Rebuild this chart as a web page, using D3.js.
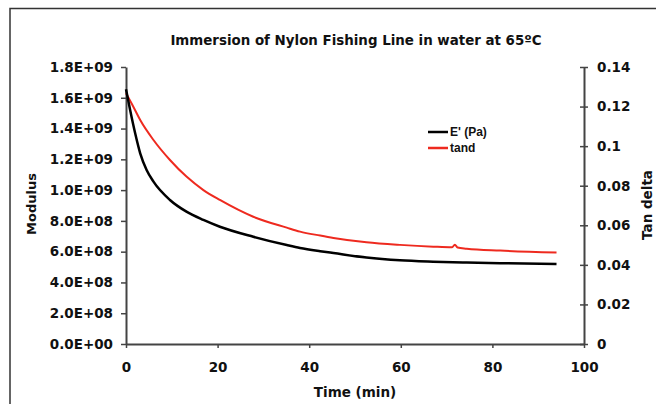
<!DOCTYPE html>
<html>
<head>
<meta charset="utf-8">
<script src="https://cdn.jsdelivr.net/npm/d3@7"></script>
<style>
  body { margin: 0; background: #fff; }
  svg { display: block; }
</style>
</head>
<body>
<div id="chart"></div>
<script>
// Data
const modulusTime = [0, 0.9, 2, 3.1, 4.5, 6, 9.6, 13.2, 16.9, 20.5, 27.8, 35.1, 38, 42.4, 45.3, 52.5, 59.8, 67.1, 74.4, 81.7, 94]
const modulusValues = [1.655e9, 1.52e9, 1.369e9, 1.239e9, 1.131e9, 1.055e9, 0.936e9, 0.86e9, 0.806e9, 0.762e9,
  0.697e9, 0.643e9, 0.624e9, 0.603e9, 0.591e9, 0.562e9, 0.544e9, 0.535e9, 0.529e9, 0.525e9, 0.52e9]

const tandTime = [0, 1.6, 3.1, 6, 9.6, 13.2, 16.9, 20.5, 27.8, 35.1, 38, 42.4, 45.3, 52.5, 59.8, 67.1, 71.2, 71.8, 72.4, 74.4, 81.7, 94]
const tandValues = [0.1267, 0.1199, 0.1132, 0.1031, 0.093, 0.0846, 0.0778, 0.0728, 0.0643, 0.0588, 0.0568,
  0.0548, 0.0536, 0.0514, 0.0501, 0.0492, 0.0489, 0.0502, 0.0488, 0.0482, 0.0472, 0.0462]

const xTicks = [0, 20, 40, 60, 80, 100]
const leftTicks = [0, 2e8, 4e8, 6e8, 8e8, 1e9, 1.2e9, 1.4e9, 1.6e9, 1.8e9]
const rightTicks = [0, 0.02, 0.04, 0.06, 0.08, 0.1, 0.12, 0.14]
const rightTickLabels = ["0", "0.02", "0.04", "0.06", "0.08", "0.1", "0.12", "0.14"]

const seriesNames = ["E' (Pa)", "tand"]
const seriesColors = ["#000000", "#ee2a1f"]

// Variables
let dimensions = {
  width: 656,
  height: 404,
  margin: { top: 67, right: 72, bottom: 60, left: 126 },
}
dimensions.boundedWidth = dimensions.width - dimensions.margin.left - dimensions.margin.right
dimensions.boundedHeight = dimensions.height - dimensions.margin.top - dimensions.margin.bottom

const verdana = "'DejaVu Sans', Verdana, sans-serif"
const arial = "'Liberation Sans', Arial, sans-serif"
const axisColor = "#444"

const wrapper = d3.select("#chart")
  .append("svg")
  .attr("width", dimensions.width)
  .attr("height", dimensions.height)

// outer frame (only top and left edges are visible)
wrapper.append("path")
  .attr("d", "M10,404 V8.5 H656")
  .attr("fill", "none")
  .attr("stroke", "#333")
  .attr("stroke-width", 1.5)

const bounds = wrapper.append("g")
  .attr("transform", `translate(${dimensions.margin.left},${dimensions.margin.top})`)

// Scales
const xScale = d3.scaleLinear()
  .domain([0, 100])
  .range([0, dimensions.boundedWidth])
const yLeft = d3.scaleLinear()
  .domain([0, 1.8e9])
  .range([dimensions.boundedHeight, 0])
const yRight = d3.scaleLinear()
  .domain([0, 0.14])
  .range([dimensions.boundedHeight, 0])

// axes
const styleAxis = (g) => {
  g.selectAll(".domain").attr("stroke", axisColor).attr("stroke-width", 2)
  g.selectAll(".tick line").attr("stroke", axisColor).attr("stroke-width", 1.5)
  g.selectAll(".tick text")
    .attr("fill", "#111")
    .style("font-family", verdana)
    .style("font-weight", "bold")
    .style("font-size", "13.5px")
}

const xAxis = bounds.append("g")
  .attr("transform", `translate(0,${dimensions.boundedHeight})`)
  .call(d3.axisBottom(xScale).tickValues(xTicks).tickSizeInner(4).tickSizeOuter(0).tickPadding(14))
  .call(styleAxis)

const yAxisLeft = bounds.append("g")
  .call(d3.axisLeft(yLeft).tickValues(leftTicks).tickSizeInner(5).tickSizeOuter(0).tickPadding(8)
    .tickFormat(d => d3.format(".1e")(d).replace(/e([+-])(\d)$/, "E$10$2").replace("e", "E").toUpperCase()))
  .call(styleAxis)

const yAxisRight = bounds.append("g")
  .attr("transform", `translate(${dimensions.boundedWidth},0)`)
  .call(d3.axisRight(yRight).tickValues(rightTicks).tickSizeInner(4).tickSizeOuter(0).tickPadding(9)
    .tickFormat((d, i) => rightTickLabels[i]))
  .call(styleAxis)
yAxisRight.selectAll(".tick line").attr("x1", -4)

// Draw lines
const modulusData = modulusTime.map((t, i) => ({ t, v: modulusValues[i] }))
const tandData = tandTime.map((t, i) => ({ t, v: tandValues[i] }))

bounds.append("path")
  .datum(tandData)
  .attr("fill", "none")
  .attr("stroke", seriesColors[1])
  .attr("stroke-width", 2)
  .attr("d", d3.line()
    .x(d => xScale(d.t))
    .y(d => yRight(d.v))
    .curve(d3.curveMonotoneX))

bounds.append("path")
  .datum(modulusData)
  .attr("fill", "none")
  .attr("stroke", seriesColors[0])
  .attr("stroke-width", 2.5)
  .attr("d", d3.line()
    .x(d => xScale(d.t))
    .y(d => yLeft(d.v))
    .curve(d3.curveMonotoneX))

// Title
wrapper.append("text")
  .attr("x", 356)
  .attr("y", 45)
  .attr("text-anchor", "middle")
  .style("font-family", verdana)
  .style("font-weight", "bold")
  .style("font-size", "13.4px")
  .attr("fill", "#111")
  .text("Immersion of Nylon Fishing Line in water at 65ºC")

// axis titles
wrapper.append("text")
  .attr("transform", "translate(36,204) rotate(-90)")
  .attr("text-anchor", "middle")
  .style("font-family", verdana)
  .style("font-weight", "bold")
  .style("font-size", "13px")
  .attr("fill", "#111")
  .text("Modulus")

wrapper.append("text")
  .attr("transform", "translate(652,205) rotate(-90)")
  .attr("text-anchor", "middle")
  .style("font-family", verdana)
  .style("font-weight", "bold")
  .style("font-size", "13.5px")
  .attr("fill", "#111")
  .text("Tan delta")

wrapper.append("text")
  .attr("x", 355)
  .attr("y", 397)
  .attr("text-anchor", "middle")
  .style("font-family", verdana)
  .style("font-weight", "bold")
  .style("font-size", "13.5px")
  .attr("fill", "#111")
  .text("Time (min)")

// Legend
const legend = wrapper.append("g")
  .attr("transform", "translate(428,132)")
seriesNames.forEach((name, i) => {
  const row = legend.append("g").attr("transform", `translate(0,${i * 16})`)
  row.append("line")
    .attr("x1", 0).attr("x2", 20)
    .attr("stroke", seriesColors[i])
    .attr("stroke-width", 2.5)
  row.append("text")
    .attr("x", 22)
    .attr("dy", "0.35em")
    .style("font-family", arial)
    .style("font-weight", "bold")
    .style("font-size", "12px")
    .attr("fill", "#111")
    .text(name)
})
</script>
</body>
</html>
